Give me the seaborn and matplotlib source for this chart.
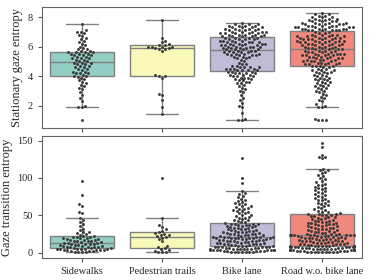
import seaborn as sns
import pandas as pd
import matplotlib.pyplot as plt

# road types on the x axis
categories = ['Sidewalks', 'Pedestrian trails', 'Bike lane', 'Road w.o. bike lane']
box_colors = ['#8dd3c7', '#ffffb3', '#bebada', '#fb8072']

# stationary gaze entropy, one value per participant trip
stationary_sidewalks = [
    1.0, 1.9, 1.9, 2.0, 2.3, 2.5, 2.7, 2.9, 3.1, 3.2, 3.3, 3.4, 3.5, 3.6, 3.7, 3.8, 3.9, 3.95, 4.0,
    4.0, 4.1, 4.2, 4.2, 4.2, 4.3, 4.3, 4.4, 4.5, 4.5, 4.6, 4.6, 4.7, 4.7, 4.8, 4.8, 4.9, 4.9, 4.9,
    5.0, 5.0, 5.1, 5.1, 5.2, 5.2, 5.2, 5.3, 5.3, 5.4, 5.4, 5.4, 5.5, 5.5, 5.5, 5.6, 5.6, 5.6, 5.6,
    5.7, 5.7, 5.8, 5.8, 5.9, 6.0, 6.1, 6.2, 6.3, 6.4, 6.5, 6.6, 6.7, 6.8, 6.9, 7.0, 7.0, 7.1, 7.5,
]
stationary_trails = [
    1.4, 1.9, 2.4, 2.7, 2.8, 3.9, 4.0, 4.0, 4.1, 5.7, 5.8, 5.8, 5.9, 5.9, 6.0, 6.0, 6.0, 6.0,
    6.1, 6.1, 6.2, 6.3, 6.4, 6.6, 7.8,
]
stationary_bike = [
    1.0, 1.0, 1.1, 1.5, 1.9, 2.0, 2.2, 2.4, 2.5, 2.7, 2.9, 3.0, 3.1, 3.2, 3.3, 3.4, 3.5, 3.5, 3.6, 3.6,
    3.7, 3.7, 3.8, 3.8, 3.9, 3.9, 3.9, 4.0, 4.0, 4.0, 4.1, 4.1, 4.1, 4.2, 4.2, 4.2, 4.2, 4.3, 4.3, 4.3,
    4.4, 4.4, 4.4, 4.4, 4.5, 4.5, 4.5, 4.5, 4.6, 4.6, 4.6, 4.6, 4.7, 4.7, 4.8, 4.8, 4.9, 5.0, 5.1, 5.2,
    5.2, 5.3, 5.3, 5.3, 5.4, 5.4, 5.4, 5.4, 5.5, 5.5, 5.5, 5.5, 5.6, 5.6, 5.6, 5.6, 5.7, 5.7, 5.7, 5.7,
    5.8, 5.8, 5.8, 5.8, 5.9, 5.9, 5.9, 5.9, 6.0, 6.0, 6.0, 6.0, 6.0, 6.1, 6.1, 6.1, 6.1, 6.1, 6.2, 6.2,
    6.2, 6.2, 6.2, 6.3, 6.3, 6.3, 6.3, 6.3, 6.4, 6.4, 6.4, 6.4, 6.5, 6.5, 6.5, 6.5, 6.6, 6.6, 6.6, 6.6,
    6.7, 6.7, 6.7, 6.7, 6.7, 6.8, 6.8, 6.8, 6.8, 6.8, 6.9, 6.9, 6.9, 6.9, 6.9, 7.0, 7.0, 7.0, 7.0, 7.0,
    7.1, 7.1, 7.1, 7.1, 7.2, 7.2, 7.2, 7.2, 7.3, 7.3, 7.3, 7.3, 7.4, 7.4, 7.4, 7.4, 7.5, 7.5, 7.5, 7.6,
]
stationary_road = [
    1.0, 1.05, 1.05, 1.1, 1.9, 1.9, 2.0, 2.1, 2.3, 2.4, 2.5, 2.6, 2.7, 2.8, 2.9, 3.0, 3.0, 3.1, 3.2, 3.2,
    3.3, 3.3, 3.4, 3.4, 3.5, 3.5, 3.6, 3.6, 3.7, 3.7, 3.8, 3.8, 3.9, 3.9, 4.0, 4.0, 4.1, 4.1, 4.2, 4.2,
    4.3, 4.3, 4.3, 4.4, 4.4, 4.4, 4.5, 4.5, 4.6, 4.6,
    4.7, 4.7, 4.7, 4.7, 4.8, 4.8, 4.8, 4.8, 4.9, 4.9, 4.9, 4.9, 5.0, 5.0, 5.0, 5.0, 5.1, 5.1, 5.1, 5.1,
    5.2, 5.2, 5.2, 5.2, 5.3, 5.3, 5.3, 5.3, 5.4, 5.4, 5.4, 5.4, 5.4, 5.5, 5.5, 5.5, 5.5, 5.5, 5.6, 5.6,
    5.6, 5.6, 5.7, 5.7, 5.7, 5.7, 5.8, 5.8, 5.8, 5.8,
    5.9, 5.9, 5.9, 5.9, 6.0, 6.0, 6.0, 6.0, 6.1, 6.1, 6.1, 6.1, 6.2, 6.2, 6.2, 6.2, 6.2, 6.3, 6.3, 6.3,
    6.3, 6.3, 6.4, 6.4, 6.4, 6.4, 6.4, 6.5, 6.5, 6.5, 6.5, 6.5, 6.6, 6.6, 6.6, 6.6, 6.6, 6.7, 6.7, 6.7,
    6.7, 6.7, 6.8, 6.8, 6.8, 6.8, 6.9, 6.9, 7.0, 7.0,
    7.1, 7.1, 7.1, 7.1, 7.1, 7.1, 7.2, 7.2, 7.2, 7.2, 7.2, 7.2, 7.3, 7.3, 7.3, 7.3, 7.3, 7.3, 7.4, 7.4,
    7.4, 7.4, 7.4, 7.5, 7.5, 7.5, 7.5, 7.5, 7.6, 7.6, 7.6, 7.6, 7.7, 7.7, 7.7, 7.7, 7.8, 7.8, 7.8, 7.9,
    7.9, 7.9, 8.0, 8.0, 8.0, 8.1, 8.1, 8.2, 8.2, 8.3,
]

# gaze transition entropy, same trips
transition_sidewalks = [
    0.5, 1, 1, 1.5, 2, 2, 2.5, 3, 3, 3.5, 4, 4, 4.5, 5, 5, 5, 5.5, 5.5, 6,
    6, 6.5, 7, 7, 7.5, 8, 8, 8.5, 9, 9.5, 10, 10, 10.5, 11, 11.5, 12, 12, 12.5, 13,
    13.5, 14, 14, 15, 15, 16, 16, 17, 17, 17.5, 18, 18, 19, 19, 20, 20.5, 21, 21.5, 22,
    22.5, 24, 25, 26, 27, 28, 30, 32, 35, 38, 41, 44, 46, 53, 55, 63, 65, 77, 96,
]
transition_trails = [
    0.5, 1, 1.5, 2, 3, 5, 6, 7, 9, 15, 18, 20, 21, 22, 23, 24, 25, 26, 28, 29, 31, 34, 37, 46, 100,
]
transition_bike = [
    0.5, 0.5, 1, 1, 1, 1.5, 1.5, 2, 2, 2, 2.5, 2.5, 3, 3, 3, 3.5, 3.5, 4, 4, 4,
    4.5, 4.5, 5, 5, 5, 5.5, 5.5, 6, 6, 6.5, 6.5, 7, 7, 7.5, 7.5, 8, 8, 8.5, 9, 9.3,
    9.5, 10, 10, 10.5, 11, 11, 11.5, 12, 12, 12.5, 13, 13, 13.5, 14, 14, 14.5, 15, 15, 15.5, 16,
    16, 16.5, 17, 17, 17.5, 18, 18, 18.5, 19, 19, 19.5, 19.5, 20, 20, 20, 20.5, 20.5, 21, 21, 21,
    21.5, 22, 22.5, 23, 23, 23.5, 24, 24.5, 25, 25, 25.5, 26, 26.5, 27, 27, 27.5, 28, 28.5, 29, 29.5,
    30, 30.5, 31, 31.5, 32, 32.5, 33, 33.5, 34, 34.5, 35, 35.5, 36, 36.5, 37, 37.5, 38, 38, 38.5, 39,
    39.5, 40.5, 41, 42, 43.5, 44, 45, 46.5, 47, 48, 49.5, 50, 51, 52.5, 53, 54, 55.5, 56, 57, 58.5,
    59, 60, 61.5, 62, 63, 64.5, 65, 66, 67.5, 69, 70, 72, 74, 76, 78, 80, 83, 93, 100, 126,
]
transition_road = [
    0.5, 0.5, 0.5, 1, 1, 1, 1.5, 1.5, 1.5, 2, 2, 2, 2.5, 2.5, 2.5, 3, 3, 3, 3.5, 3.5,
    4, 4, 4, 4.5, 4.5, 5, 5, 5, 5.5, 5.5, 6, 6, 6, 6.5, 6.5, 7, 7, 7, 7.5, 7.5,
    8, 8, 8, 8.5, 8.5, 9, 9, 9, 9.3, 9.3,
    9.5, 10, 10, 10.5, 11, 11, 11.5, 12, 12, 12.5, 13, 13, 13.5, 14, 14, 14.5, 15, 15, 15.5, 16,
    16, 16.5, 17, 17, 17.5, 18, 18, 18.5, 19, 19, 19.5, 20, 20, 20.5, 21, 21, 21.5, 22, 22, 22.5,
    22.5, 23, 23, 23, 23.5, 23.5, 24, 24, 24, 24,
    24.5, 25, 25, 26, 26.5, 27, 28, 28, 28.5, 29.5, 30, 30, 31, 31.5, 32, 33, 33, 33.5, 34.5, 35,
    35, 36, 36.5, 37, 38, 38, 38.5, 39.5, 40, 40, 41, 41.5, 42, 43, 43, 44, 45, 45.5, 46, 47,
    47.5, 48, 49, 49.5, 50, 50.5, 51, 51.5, 52, 52,
    53, 54, 55, 56, 57, 58, 59.5, 61, 62, 63.5, 65, 66, 67, 68.5, 70, 71, 72, 73.5, 75, 76,
    77, 78.5, 80, 81, 82, 83.5, 85, 86, 87, 88.5, 90, 91, 92, 94, 96, 98, 100, 102, 104, 106,
    108, 110, 111, 112, 126, 128, 128, 131, 142, 147,
]


def to_long(groups):
    """Stack one list per category into a long DataFrame."""
    rows = []
    for name, values in zip(categories, groups):
        rows += [(name, v) for v in values]
    return pd.DataFrame(rows, columns=['road', 'value'])


def draw_panel(ax, df, ylabel):
    sns.boxplot(data=df, x='road', y='value', hue='road', order=categories,
                hue_order=categories, palette=box_colors, legend=False,
                showfliers=False, width=0.8, linecolor='#808080', linewidth=1,
                saturation=0.85, ax=ax)
    # transparent edge keeps a small gap between the swarm dots
    sns.swarmplot(data=df, x='road', y='value', order=categories,
                  color='#3a3a3a', size=2.1, linewidth=0.4,
                  edgecolor=(1, 1, 1, 0), ax=ax)
    ax.set_xlabel('')
    ax.set_ylabel(ylabel, fontsize=9, labelpad=3)
    ax.tick_params(labelsize=7.5, length=3, width=0.8, color='#555555')
    for spine in ax.spines.values():
        spine.set_visible(True)
        spine.set_color('#666666')
        spine.set_linewidth(0.8)


sns.set_style('ticks')
plt.rcParams['font.family'] = ['Liberation Serif', 'DejaVu Serif']

fig = plt.figure(figsize=(3.74, 2.8), dpi=100)
ax_top = fig.add_axes([0.112, 0.544, 0.856, 0.432])
ax_bot = fig.add_axes([0.112, 0.079, 0.856, 0.435])

draw_panel(ax_top, to_long([stationary_sidewalks, stationary_trails,
                            stationary_bike, stationary_road]),
           'Stationary gaze entropy')
ax_top.set_ylim(0.5, 8.7)
ax_top.set_yticks([2, 4, 6, 8])
ax_top.set_xticklabels([])

draw_panel(ax_bot, to_long([transition_sidewalks, transition_trails,
                            transition_bike, transition_road]),
           'Gaze transition entropy')
ax_bot.set_ylim(-7, 156)
ax_bot.set_yticks([0, 50, 100, 150])

fig.savefig('out.png', dpi=100)
